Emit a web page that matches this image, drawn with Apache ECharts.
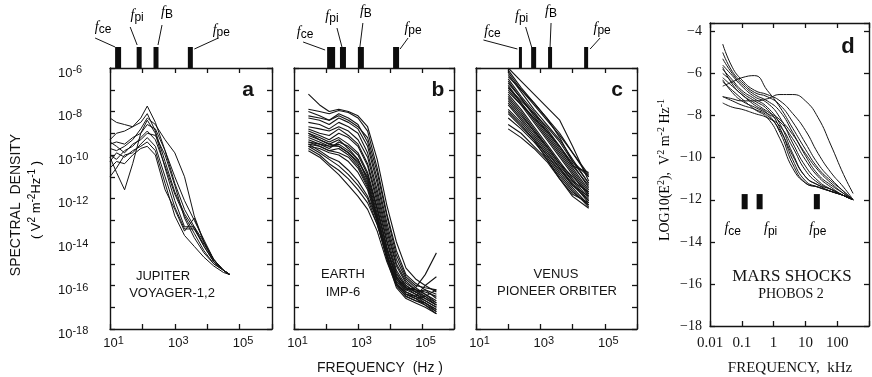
<!DOCTYPE html>
<html lang="en">
<head>
<meta charset="UTF-8">
<title>Shock spectra</title>
<script src="https://cdn.jsdelivr.net/npm/echarts@6/dist/echarts.min.js"></script>
<style>
  html, body { margin: 0; background: #fff; }
  #chart { width: 872px; height: 377px; }
</style>
</head>
<body>
<div id="chart"></div>
<script>
// all values are log10: frequency (Hz, kHz for Mars) and spectral density
var FA = [1.0, 1.2, 1.45, 1.7, 1.95, 2.15, 2.4, 2.7, 3.0, 3.3, 3.6, 3.9, 4.2, 4.5, 4.7];
var JUPITER = [
  [-8.3, -8.5, -8.6, -8.7, -8.5, -8.1, -8.9, -10.3, -11.7, -12.7, -13.4, -14.2, -14.9, -15.3, -15.5],
  [-9.3, -9.0, -8.9, -8.7, -8.3, -7.75, -8.5, -9.8, -11.3, -12.5, -13.3, -14.0, -14.8, -15.3, -15.5],
  [-10.1, -10.8, -11.6, -10.4, -9.0, -8.4, -9.0, -10.6, -12.1, -13.3, -13.3, -14.2, -14.9, -15.3, -15.5],
  [-9.7, -9.8, -9.6, -9.3, -8.8, -8.3, -8.6, -9.3, -9.9, -11.0, -12.8, -14.0, -14.8, -15.3, -15.5],
  [-10.0, -10.2, -9.8, -9.6, -9.2, -8.9, -9.3, -10.5, -11.8, -12.8, -13.6, -14.4, -15.0, -15.3, -15.5],
  [-11.0, -10.6, -10.0, -9.9, -9.5, -9.2, -9.6, -11.0, -12.4, -13.4, -13.4, -14.1, -14.8, -15.3, -15.5],
  [-9.5, -9.4, -9.5, -9.2, -9.0, -8.6, -8.8, -9.8, -11.0, -12.1, -13.0, -13.9, -14.8, -15.3, -15.5],
  [-10.3, -9.9, -10.1, -9.8, -9.6, -9.4, -9.8, -11.3, -12.8, -13.7, -14.2, -14.7, -15.1, -15.4, -15.5],
  [-9.4, -9.6, -9.9, -9.5, -9.3, -9.0, -9.1, -10.0, -11.4, -12.9, -13.8, -14.5, -15.0, -15.3, -15.5],
  [-10.6, -10.3, -10.4, -10.0, -9.7, -9.6, -10.0, -11.6, -12.5, -13.5, -12.9, -14.0, -14.9, -15.3, -15.5]
];

var FB = [1.45, 1.8, 2.1, 2.4, 2.7, 3.0, 3.3, 3.6, 3.9, 4.2, 4.5, 4.8, 5.1, 5.45];
var EARTH = [
  [-7.2, -7.7, -8.0, -7.9, -8.0, -8.2, -8.7, -10.2, -12.3, -14.0, -15.2, -15.7, -16.0, -16.3],
  [-7.9, -8.0, -8.1, -7.95, -8.05, -8.3, -8.9, -10.6, -12.7, -14.4, -15.5, -15.9, -16.2, -16.6],
  [-8.2, -8.3, -8.4, -8.1, -8.3, -8.6, -9.4, -11.1, -13.1, -14.8, -15.7, -16.1, -16.4, -16.8],
  [-8.5, -8.6, -8.8, -8.5, -8.7, -9.0, -9.9, -11.6, -13.5, -15.1, -15.9, -16.2, -16.5, -16.9],
  [-8.8, -9.0, -9.1, -8.8, -9.1, -9.5, -10.4, -12.0, -13.9, -15.4, -16.1, -16.4, -16.7, -17.0],
  [-9.0, -9.2, -9.4, -9.2, -9.5, -9.9, -10.8, -12.4, -14.2, -15.7, -16.3, -16.5, -16.8, -17.2],
  [-9.2, -9.4, -9.6, -9.5, -9.8, -10.2, -11.1, -12.7, -14.5, -15.9, -16.4, -16.6, -16.8, -17.1],
  [-9.4, -9.6, -9.8, -9.7, -10.0, -10.5, -11.4, -12.9, -14.7, -16.0, -16.5, -16.7, -16.9, -17.3],
  [-9.6, -9.7, -9.9, -10.0, -10.3, -10.8, -11.6, -13.1, -14.8, -16.1, -16.6, -16.8, -17.0, -17.3],
  [-9.5, -9.8, -10.1, -10.3, -10.7, -11.2, -11.9, -13.0, -14.4, -15.6, -16.1, -16.2, -16.3, -16.5],
  [-9.7, -10.0, -10.4, -10.7, -11.1, -11.6, -12.2, -13.2, -14.6, -15.7, -16.2, -16.1, -15.5, -14.5],
  [-9.3, -9.5, -9.7, -9.4, -9.6, -10.0, -10.9, -12.5, -14.3, -15.6, -16.2, -16.4, -16.6, -16.9],
  [-8.9, -9.1, -9.3, -9.0, -9.2, -9.6, -10.5, -12.2, -14.0, -15.5, -16.0, -16.3, -16.5, -16.8],
  [-9.8, -10.1, -10.5, -10.9, -11.4, -11.9, -12.5, -13.5, -14.9, -16.0, -16.5, -16.7, -16.8, -17.1],
  [-8.0, -8.2, -8.4, -8.2, -8.4, -8.7, -9.2, -10.8, -12.8, -14.6, -15.6, -16.0, -16.1, -16.2],
  [-9.1, -9.3, -9.5, -9.3, -9.7, -10.2, -11.2, -12.9, -14.6, -15.9, -16.4, -16.5, -16.0, -15.6],
  [-8.3, -8.4, -8.6, -8.3, -8.5, -8.8, -9.6, -11.3, -13.3, -15.0, -15.8, -16.2, -16.4, -16.7],
  [-8.7, -8.8, -8.9, -8.7, -8.9, -9.3, -10.1, -11.8, -13.7, -15.3, -16.0, -16.3, -16.6, -16.9],
  [-9.4, -9.5, -9.6, -9.6, -9.9, -10.4, -11.3, -12.8, -14.6, -15.9, -16.4, -16.6, -16.9, -17.2],
  [-9.6, -9.9, -10.2, -10.5, -10.9, -11.4, -12.0, -13.2, -14.7, -15.8, -16.3, -16.5, -16.7, -17.0],
  [-9.0, -9.3, -9.5, -9.6, -9.9, -10.3, -11.0, -12.5, -14.3, -15.6, -16.1, -16.3, -16.2, -16.4],
  [-9.5, -9.6, -9.8, -9.9, -10.1, -10.6, -11.5, -13.0, -14.7, -15.9, -16.4, -16.6, -16.5, -16.2]
];

var FC = [2.0, 2.4, 2.8, 3.2, 3.6, 4.0, 4.5];
var VENUS = [
  [-6.0, -6.6, -7.2, -7.8, -8.4, -9.6, -11.2],
  [-6.2, -7.0, -7.7, -8.4, -9.1, -9.9, -10.9],
  [-6.3, -7.1, -7.9, -8.6, -9.3, -10.2, -11.3],
  [-6.5, -7.3, -8.0, -8.8, -9.6, -10.4, -11.5],
  [-6.6, -7.4, -8.2, -9.0, -9.8, -10.6, -11.6],
  [-6.8, -7.6, -8.4, -9.2, -10.0, -10.8, -11.8],
  [-7.0, -7.7, -8.5, -9.3, -10.1, -10.9, -11.9],
  [-7.2, -7.9, -8.7, -9.5, -10.3, -11.1, -12.0],
  [-7.4, -8.1, -8.9, -9.7, -10.5, -11.2, -12.1],
  [-7.6, -8.3, -9.0, -9.8, -10.6, -11.3, -12.2],
  [-7.9, -8.5, -9.2, -10.0, -10.8, -11.5, -12.3],
  [-8.3, -8.8, -9.4, -10.1, -10.9, -11.6, -12.4],
  [-8.8, -9.2, -9.7, -10.3, -11.1, -11.9, -12.45],
  [-6.4, -7.0, -7.6, -8.3, -9.2, -10.3, -11.0],
  [-7.1, -7.7, -8.3, -8.9, -9.6, -10.5, -10.8],
  [-8.0, -8.6, -9.3, -10.2, -11.1, -11.8, -12.2],
  [-6.1, -6.9, -7.6, -8.3, -9.0, -9.9, -11.0],
  [-6.7, -7.4, -8.1, -8.9, -9.7, -10.5, -11.4],
  [-6.9, -7.6, -8.3, -9.1, -9.9, -10.7, -11.7],
  [-7.3, -8.0, -8.8, -9.6, -10.4, -11.0, -11.8],
  [-7.5, -8.2, -8.9, -9.6, -10.4, -11.2, -11.7],
  [-8.1, -8.7, -9.3, -10.0, -10.7, -11.4, -12.1],
  [-8.6, -9.0, -9.6, -10.2, -11.0, -11.7, -12.3],
  [-6.9, -7.5, -8.1, -8.7, -9.4, -10.3, -11.3],
  [-7.7, -8.4, -9.1, -9.9, -10.6, -11.4, -11.9]
];

var FD = [-1.6, -1.3, -1.0, -0.6, -0.2, 0.2, 0.6, 1.0, 1.4, 1.8, 2.2, 2.5];
var MARS = [
  [-4.6, -5.7, -6.3, -6.8, -7.0, -7.3, -7.9, -8.7, -9.8, -10.7, -11.4, -12.0],
  [-5.0, -5.9, -6.4, -6.9, -7.1, -7.5, -8.3, -9.3, -10.3, -11.0, -11.6, -12.0],
  [-5.3, -6.0, -6.5, -7.0, -7.3, -7.8, -8.8, -9.9, -10.8, -11.3, -11.7, -12.0],
  [-5.6, -6.1, -6.6, -7.1, -7.4, -8.1, -9.3, -10.4, -11.1, -11.5, -11.8, -12.0],
  [-5.8, -6.3, -6.8, -7.2, -7.6, -8.4, -9.8, -10.9, -11.3, -11.5, -11.8, -12.0],
  [-6.0, -6.4, -6.9, -7.3, -7.7, -8.6, -10.1, -11.1, -11.4, -11.6, -11.8, -12.0],
  [-6.2, -6.6, -7.0, -7.5, -7.9, -8.8, -10.3, -11.2, -11.4, -11.6, -11.8, -12.0],
  [-6.4, -6.8, -7.2, -7.7, -8.1, -9.1, -10.5, -11.2, -11.4, -11.6, -11.8, -12.0],
  [-6.6, -6.4, -6.2, -6.1, -6.8, -7.6, -8.6, -9.6, -10.5, -11.1, -11.6, -12.0],
  [-7.1, -7.2, -7.3, -7.3, -7.2, -7.0, -7.0, -7.3, -8.1, -9.4, -10.8, -11.7],
  [-7.4, -7.6, -7.7, -7.9, -8.1, -8.5, -9.5, -10.6, -11.2, -11.5, -11.8, -12.0],
  [-7.1, -7.3, -7.5, -7.7, -8.0, -8.7, -9.9, -10.9, -11.3, -11.6, -11.8, -12.0],
  [-6.3, -6.9, -7.3, -7.6, -7.9, -8.3, -9.1, -10.1, -10.9, -11.4, -11.8, -12.0],
  [-5.7, -6.5, -7.0, -7.4, -7.8, -8.2, -8.9, -9.8, -10.6, -11.2, -11.7, -12.0]
];

// characteristic frequencies (log10) drawn as black bars
var MARK_A = [1.25, 1.9, 2.42, 3.48];
var MARK_B = [2.16, 2.53, 3.09, 4.19];
var MARK_C = [2.38, 2.79, 3.30, 4.42];
var MARK_D = [-0.91, -0.44, 1.36];
var MARK_D_BAND = [-11.73, -12.45];
var MARK_NAMES = ['ce', 'pi', 'B', 'pe'];
var MARK_D_NAMES = ['ce', 'pi', 'pe'];

var X_LABELS_D = {'-2': '0.01', '-1': '0.1', '0': '1', '1': '10', '2': '100'};

// label placement, relative to bar centre at the top of the frame: [lx, ly, x1, y1, x2, y2]
var LAY_A = [[-15, -40, -23, -30, -3, -21], [-2, -52, -9, -41, -2, -23], [11, -55, 6, -43, 2, -23], [31, -37, 28, -30, 4, -19]];
var LAY_B = [[-26, -35, -28, -26, -6, -18], [-11, -51, -6, -40, -1, -21], [5, -56, 2, -45, -1, -21], [17, -39, 12, -30, 4, -19]];
var LAY_C = [[-28, -36, -37, -28, -3, -19], [-12, -51, -8, -41, -2, -21], [1, -56, 1, -45, 0, -21], [16, -39, 14, -30, 4, -19]];
var W_A = [6, 5, 5, 5], W_B = [8, 6, 6, 6], W_C = [3, 5, 4, 4];

var SANS = '"Liberation Sans", Arial, sans-serif';
var SERIF = '"Liberation Serif", "Times New Roman", serif';
var INK = '#141414';

var chart = echarts.init(document.getElementById('chart'));

var grids = [
  {left: 110, top: 68, width: 162, height: 261},
  {left: 294, top: 68, width: 160, height: 261},
  {left: 476, top: 68, width: 161, height: 261},
  {left: 710, top: 23, width: 160, height: 303}
];

var powRich = {
  b: {fontSize: 13, fontFamily: SANS, color: INK, lineHeight: 15, padding: [4, 0, 0, 0], verticalAlign: 'bottom'},
  s: {fontSize: 11, fontFamily: SANS, color: INK, lineHeight: 12, verticalAlign: 'top'}
};

function frame() {
  return {show: true, onZero: false, lineStyle: {color: INK, width: 1.4}};
}
function ticks() {
  return {show: true, inside: true, length: 5, lineStyle: {color: INK, width: 1.3}};
}

var xAxis = [], yAxis = [];
for (var g = 0; g < 4; g++) {
  var isD = g === 3;
  var xb = {
    type: 'value', gridIndex: g, position: 'bottom',
    min: isD ? -2 : 1, max: isD ? 3 : 6, interval: 1,
    axisLine: frame(), axisTick: ticks(), splitLine: {show: false},
    axisLabel: isD ? {
      margin: 10, fontFamily: SERIF, fontSize: 15, color: INK,
      showMinLabel: true,
      formatter: function (v) { return X_LABELS_D[String(v)] || ''; }
    } : {
      margin: 6, padding: [0, 0, 0, 7], rich: powRich,
      showMinLabel: true,
      formatter: function (v) { return v % 2 === 1 ? '{b|10}{s|' + v + '}' : ''; }
    }
  };
  var xt = {
    type: 'value', gridIndex: g, position: 'top',
    min: xb.min, max: xb.max, interval: 1,
    axisLine: frame(), axisTick: ticks(), axisLabel: {show: false}, splitLine: {show: false}
  };
  var yl = {
    type: 'value', gridIndex: g, position: 'left',
    min: -18, max: isD ? -3.6 : -6, interval: isD ? 2 : 1,
    axisLine: frame(), axisTick: ticks(), splitLine: {show: false},
    axisLabel: {show: false}
  };
  if (g === 0) {
    yl.axisLabel = {
      show: true, align: 'left', margin: 52, padding: [8, 0, 0, 0], rich: powRich,
      showMinLabel: true, showMaxLabel: true,
      formatter: function (v) { return v % 2 === 0 ? '{b|10}{s|' + v + '}' : ''; }
    };
  }
  if (isD) {
    yl.axisLabel = {
      show: true, margin: 8, fontFamily: SERIF, fontSize: 14, color: INK,
      showMinLabel: true,
      formatter: function (v) { return (v % 2 === 0) ? '\u2212' + Math.abs(v) : ''; }
    };
  }
  var yr = {
    type: 'value', gridIndex: g, position: 'right',
    min: yl.min, max: yl.max, interval: yl.interval,
    axisLine: frame(), axisTick: ticks(), axisLabel: {show: false}, splitLine: {show: false}
  };
  xAxis.push(xb, xt);
  yAxis.push(yl, yr);
}

var series = [];
function addLines(panel, xs, rows, smooth, width) {
  rows.forEach(function (row) {
    series.push({
      type: 'line', xAxisIndex: panel * 2, yAxisIndex: panel * 2,
      data: xs.map(function (x, i) { return [x, row[i]]; }),
      symbol: 'none', smooth: smooth, silent: true,
      lineStyle: {color: INK, width: width}
    });
  });
}
addLines(0, FA, JUPITER, false, 1);
addLines(1, FB, EARTH, false, 1.1);
addLines(2, FC, VENUS, false, 1.1);
addLines(3, FD, MARS, 0.5, 1);

var fRich = {
  f: {fontFamily: SERIF, fontStyle: 'italic', fontSize: 14, color: INK, lineHeight: 16, verticalAlign: 'top'},
  s: {fontFamily: SANS, fontSize: 12, color: INK, lineHeight: 12, padding: [5, 0, 0, 0], verticalAlign: 'bottom'}
};

function topMarks(panel, freqs, widths, lay) {
  series.push({
    type: 'custom', xAxisIndex: panel * 2, yAxisIndex: panel * 2, silent: true, clip: false,
    data: freqs.map(function (f) { return [f, -6]; }),
    renderItem: function (params, api) {
      var i = params.dataIndex, L = lay[i], w = widths[i];
      var p = api.coord([api.value(0), api.value(1)]);
      return {type: 'group', children: [
        {type: 'rect', shape: {x: p[0] - w / 2, y: p[1] - 21, width: w, height: 21}, style: {fill: '#0d0d0d'}},
        {type: 'line', shape: {x1: p[0] + L[2], y1: p[1] + L[3], x2: p[0] + L[4], y2: p[1] + L[5]},
          style: {stroke: INK, lineWidth: 1}},
        {type: 'text', x: p[0] + L[0], y: p[1] + L[1],
          style: {text: '{f|f}{s|' + MARK_NAMES[i] + '}', rich: fRich, align: 'center', verticalAlign: 'middle'}}
      ]};
    }
  });
}
topMarks(0, MARK_A, W_A, LAY_A);
topMarks(1, MARK_B, W_B, LAY_B);
topMarks(2, MARK_C, W_C, LAY_C);

var D_LAB_DX = [-12, 11, 1];
series.push({
  type: 'custom', xAxisIndex: 6, yAxisIndex: 6, silent: true,
  data: MARK_D.map(function (f) { return [f, MARK_D_BAND[0], MARK_D_BAND[1]]; }),
  renderItem: function (params, api) {
    var i = params.dataIndex;
    var a = api.coord([api.value(0), api.value(1)]);
    var b = api.coord([api.value(0), api.value(2)]);
    return {type: 'group', children: [
      {type: 'rect', shape: {x: a[0] - 3, y: a[1], width: 6, height: b[1] - a[1]}, style: {fill: '#0d0d0d'}},
      {type: 'text', x: a[0] + D_LAB_DX[i], y: b[1] + 20,
        style: {text: '{f|f}{s|' + MARK_D_NAMES[i] + '}', rich: fRich, align: 'center', verticalAlign: 'middle'}}
    ]};
  }
});

function txt(x, y, text, font) {
  return {type: 'text', x: x, y: y, silent: true,
    style: {text: text, font: font, fill: INK, align: 'center', verticalAlign: 'middle'}};
}

var unitRich = {
  t: {fontFamily: SANS, fontSize: 13, color: INK, lineHeight: 16, padding: [4, 0, 0, 0], verticalAlign: 'bottom'},
  s: {fontFamily: SANS, fontSize: 10, color: INK, lineHeight: 11, verticalAlign: 'top'}
};
var dRich = {
  t: {fontFamily: SERIF, fontSize: 14, color: INK, lineHeight: 16, padding: [4, 0, 0, 0], verticalAlign: 'bottom'},
  s: {fontFamily: SERIF, fontSize: 10, color: INK, lineHeight: 11, verticalAlign: 'top'}
};

var graphic = [
  txt(248, 90, 'a', 'bold 21px ' + SANS),
  txt(438, 90, 'b', 'bold 21px ' + SANS),
  txt(617, 90, 'c', 'bold 21px ' + SANS),
  txt(848, 47, 'd', 'bold 22px ' + SANS),
  txt(163, 276, 'JUPITER', '13px ' + SANS),
  txt(172, 293, 'VOYAGER-1,2', '13px ' + SANS),
  txt(343, 274, 'EARTH', '13px ' + SANS),
  txt(343, 292, 'IMP-6', '13px ' + SANS),
  txt(556, 274, 'VENUS', '13px ' + SANS),
  txt(557, 291, 'PIONEER ORBITER', '13px ' + SANS),
  txt(792, 277, 'MARS SHOCKS', '17px ' + SERIF),
  txt(791, 294, 'PHOBOS 2', '14px ' + SERIF),
  txt(380, 368, 'FREQUENCY  (Hz )', '14px ' + SANS),
  txt(790, 368, 'FREQUENCY,  kHz', '15px ' + SERIF),
  {type: 'text', x: 16, y: 205, rotation: Math.PI / 2, silent: true,
    style: {text: 'SPECTRAL  DENSITY', font: '14px ' + SANS, fill: INK, align: 'center', verticalAlign: 'middle'}},
  {type: 'text', x: 35, y: 200, rotation: Math.PI / 2, silent: true,
    style: {text: '{t|( V}{s|2}{t| m}{s|-2}{t|Hz}{s|-1}{t| )}', rich: unitRich, align: 'center', verticalAlign: 'middle'}},
  {type: 'text', x: 664, y: 170, rotation: Math.PI / 2, silent: true,
    style: {text: '{t|LOG10(E}{s|2}{t|),  V}{s|2}{t| m}{s|-2}{t| Hz}{s|-1}', rich: dRich, align: 'center', verticalAlign: 'middle'}}
];

chart.setOption({
  animation: false,
  backgroundColor: '#fff',
  grid: grids,
  xAxis: xAxis,
  yAxis: yAxis,
  series: series,
  graphic: graphic
});
</script>
</body>
</html>
